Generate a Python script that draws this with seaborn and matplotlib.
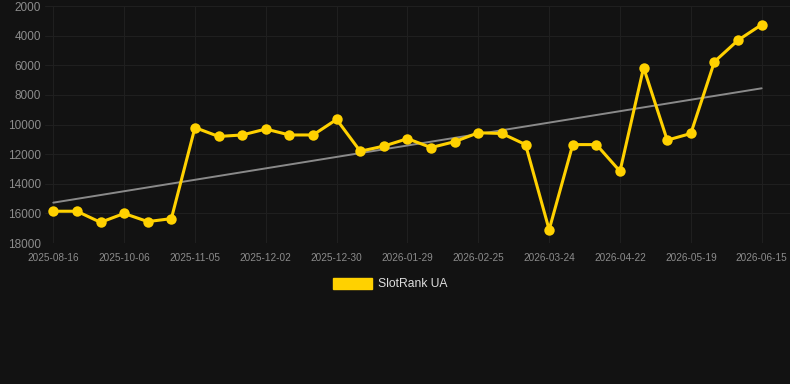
import numpy as np
import pandas as pd
import seaborn as sns
import matplotlib.pyplot as plt
from matplotlib.patches import Patch

# Rank values (lower is better, so the axis is inverted)
rank = [15850, 15850, 16600, 16000, 16550, 16350, 10200, 10800, 10700, 10300,
        10700, 10700, 9650, 11800, 11450, 10950, 11550, 11150, 10550, 10600,
        11350, 17100, 11350, 11350, 13150, 6150, 11050, 10600, 5750, 4300,
        3250]
# Labelled dates, one every third point
tick_dates = ['2025-08-16', '2025-10-06', '2025-11-05', '2025-12-02', '2025-12-30',
              '2026-01-29', '2026-02-25', '2026-03-24', '2026-04-22', '2026-05-19',
              '2026-06-15']
y_ticks = [2000, 4000, 6000, 8000, 10000, 12000, 14000, 16000, 18000]

df = pd.DataFrame({'idx': np.arange(len(rank)), 'rank': rank})

bg = '#121212'
gold = '#FFD100'
sns.set_style('dark')
plt.rcParams['font.family'] = ['Liberation Sans', 'DejaVu Sans']

fig = plt.figure(figsize=(7.9, 3.84), dpi=100, facecolor=bg)
ax = fig.add_axes([0.057, 0.367, 0.943, 0.617])
ax.set_facecolor(bg)

# trend line (linear fit)
sns.regplot(data=df, x='idx', y='rank', scatter=False, ci=None, ax=ax,
            line_kws={'color': '#8a8a8a', 'lw': 1.4})
sns.lineplot(data=df, x='idx', y='rank', ax=ax, color=gold, lw=2.2,
             marker='o', markersize=7.5, markeredgewidth=0)

ax.set_ylim(18000, 2000)
ax.set_xlim(-0.35, 31.2)
ax.set_yticks(y_ticks)
ax.set_yticklabels([str(v) for v in y_ticks])
ax.set_xticks(np.arange(0, len(rank), 3))
ax.set_xticklabels(tick_dates)
ax.set_xlabel('')
ax.set_ylabel('')

ax.grid(True, color='#1f1f1f', lw=0.8)
for s in ax.spines.values():
    s.set_visible(False)
ax.tick_params(axis='x', colors='#2e2e2e', labelcolor='#8c8c8c', labelsize=7.2,
               length=5, width=0.8, pad=2)
ax.tick_params(axis='y', colors=bg, labelcolor='#8c8c8c', labelsize=8.5,
               length=0, pad=3)

fig.legend(handles=[Patch(facecolor=gold, edgecolor=gold, label='SlotRank UA')],
           loc='center', bbox_to_anchor=(0.494, 0.26), frameon=False,
           fontsize=8.7, labelcolor='#dddddd', handlelength=3.3,
           handleheight=1.0, handletextpad=0.5)

fig.savefig('out.png', dpi=100, facecolor=bg)
